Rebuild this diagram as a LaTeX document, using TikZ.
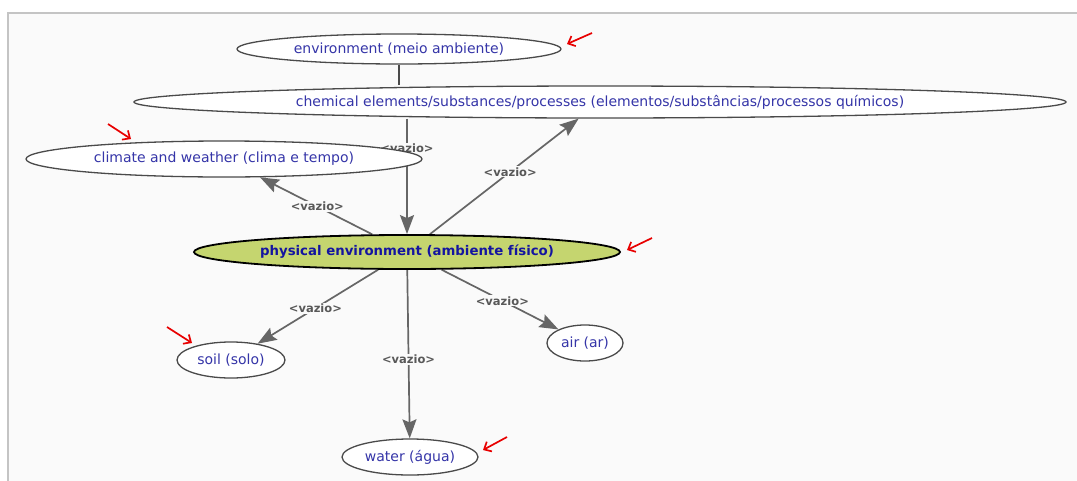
\documentclass[tikz,border=0pt]{standalone}
\usepackage{fontspec}
\setmainfont{DejaVu Sans}
\usetikzlibrary{shapes.geometric,arrows.meta}
\pgfdeclarelayer{bgframe}
\pgfdeclarelayer{edges}
\pgfsetlayers{bgframe,edges,main}
\definecolor{bgc}{HTML}{FAFAFA}
\definecolor{framec}{HTML}{C4C4C4}
\definecolor{nodeline}{HTML}{4A4A4A}
\definecolor{nodetext}{HTML}{3535A8}
\definecolor{coretext}{HTML}{1414A0}
\definecolor{corefill}{HTML}{C5D56F}
\definecolor{edgec}{HTML}{666666}
\definecolor{lblc}{HTML}{585858}
\definecolor{markc}{HTML}{E80000}
\begin{document}
\begin{tikzpicture}[x=1pt,y=-1pt,
  concept/.style={ellipse, draw=nodeline, line width=1.3pt, fill=white, inner sep=0pt,
    text=nodetext, font=\fontsize{14}{16}\selectfont},
  core/.style={ellipse, draw=black, line width=1.8pt, fill=corefill, inner sep=0pt,
    text=coretext, font=\fontsize{13.3}{15}\selectfont\bfseries},
  edge/.style={draw=edgec, line width=1.7pt, -{Stealth[length=19pt,width=14pt,inset=3pt]}},
  plainedge/.style={draw=nodeline, line width=1.1pt},
  lbl/.style={fill=bgc, inner sep=1pt, text=lblc, font=\fontsize{11.5}{13}\selectfont\bfseries},
  redmark/.style={draw=markc, line width=1.7pt, -{Straight Barb[length=6pt,width=11pt]}}
]
\useasboundingbox (0,0) rectangle (1077,480);
\begin{pgfonlayer}{bgframe}
  \fill[white] (0,0) rectangle (1077,480);
  \filldraw[fill=bgc, draw=framec, line width=1.5pt] (8,13) rectangle (1090,490);
\end{pgfonlayer}

\node[concept, minimum width=324pt, minimum height=30pt] (env) at (399,49) {environment (meio ambiente)};
\node[concept, minimum width=932pt, minimum height=32pt] (chem) at (600,102) {chemical elements/substances/processes (elementos/substâncias/processos químicos)};
\node[concept, minimum width=396pt, minimum height=36pt] (clim) at (224,159) {climate and weather (clima e tempo)};
\node[core, minimum width=426pt, minimum height=34pt] (phys) at (407,252) {physical environment (ambiente físico)};
\node[concept, minimum width=108pt, minimum height=36pt] (soil) at (231,360) {soil (solo)};
\node[concept, minimum width=76pt, minimum height=36pt] (air) at (585,343) {air (ar)};
\node[concept, minimum width=136pt, minimum height=36pt] (water) at (410,457) {water (água)};

\begin{pgfonlayer}{edges}
  \draw[plainedge] (env.south) -- (env.south |- chem.north);
  \draw[edge] (phys.north |- chem.south) -- node[lbl, pos=0.26] {<vazio>} (phys.north);
  \draw[edge] (phys) -- node[lbl, pos=0.49] {<vazio>} (clim);
  \draw[edge] (phys) -- node[lbl, pos=0.54] {<vazio>} (chem);
  \draw[edge] (phys) -- node[lbl, pos=0.52] {<vazio>} (soil);
  \draw[edge] (phys) -- node[lbl, pos=0.53] {<vazio>} (water);
  \draw[edge] (phys) -- node[lbl, pos=0.52] {<vazio>} (air);
\end{pgfonlayer}

\coordinate (m1s) at (592,33);  \coordinate (m1e) at (567,44);
\coordinate (m2s) at (108,124); \coordinate (m2e) at (131,139);
\coordinate (m3s) at (652,238); \coordinate (m3e) at (627,250);
\coordinate (m4s) at (167,327); \coordinate (m4e) at (192,343);
\coordinate (m5s) at (507,437); \coordinate (m5e) at (483,450);
\draw[redmark] (m1s) -- (m1e);
\draw[redmark] (m2s) -- (m2e);
\draw[redmark] (m3s) -- (m3e);
\draw[redmark] (m4s) -- (m4e);
\draw[redmark] (m5s) -- (m5e);
\end{tikzpicture}
\end{document}
